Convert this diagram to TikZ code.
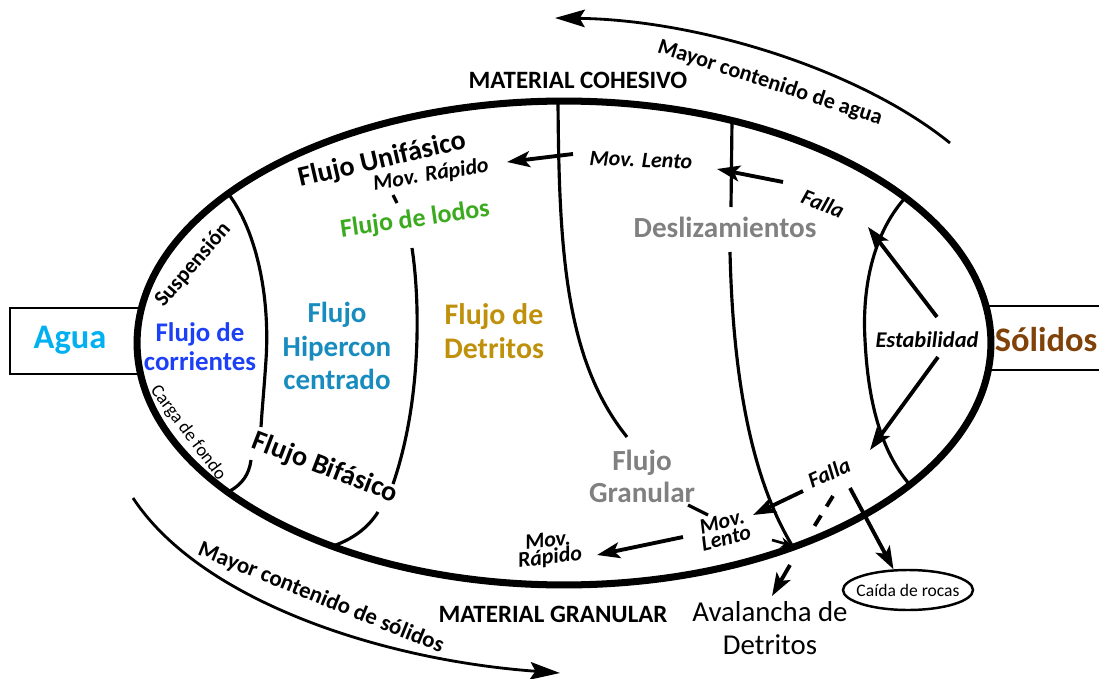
\documentclass[tikz,border=0pt]{standalone}
\usepackage{fontspec}
\setmainfont{Carlito}
\usetikzlibrary{arrows.meta,shapes.geometric}

\definecolor{cagua}{RGB}{0,176,240}
\definecolor{csolido}{RGB}{128,66,8}
\definecolor{ccorriente}{RGB}{28,64,245}
\definecolor{chiper}{RGB}{24,140,190}
\definecolor{cdetrito}{RGB}{191,144,10}
\definecolor{clodo}{RGB}{60,170,30}
\definecolor{cgris}{RGB}{128,128,128}

\newcommand{\tam}[2]{\fontsize{#1}{#2}\selectfont}

\begin{document}
\begin{tikzpicture}[x=0.02cm,y=-0.02cm,
  borde/.style={line width=4pt},
  caja/.style={line width=1.7pt},
  linea/.style={line width=1.8pt},
  flecha/.style={line width=2.2pt,-{Stealth[length=13pt,width=9pt,inset=3pt]}},
  arco/.style={line width=1.6pt,-{Stealth[length=17pt,width=10pt,inset=3pt]}},
  txt/.style={align=center,inner sep=0pt},
  mov/.style={txt,font=\bfseries\itshape\tam{12.5}{9.5}}]

  \useasboundingbox (0,0) rectangle (1099,679);

  % cajas de agua y solidos
  \draw[caja] (142,308) -- (10,308) -- (10,374) -- (142,374);
  \draw[caja] (985,306) -- (1110,306);
  \draw[caja] (985,370) -- (1110,370);

  % elipse principal
  \draw[borde] (564,343) ellipse [x radius=8.54cm,y radius=4.84cm];

  % limites entre zonas
  \draw[linea] (230,196) .. controls (258,235) and (270,300) .. (266,360)
    .. controls (264,390) and (262,410) .. (261,427);
  \draw[linea] (251,460) .. controls (249,475) and (242,484) .. (230,491);
  \draw[linea] (412,248) .. controls (420,300) and (422,400) .. (393,484);
  \draw[linea] (378,512) .. controls (368,528) and (352,540) .. (330,547);
  \draw[linea] (393,195) -- (397,203);
  \draw[linea] (558,101) .. controls (559,250) and (565,360) .. (627,437);
  \draw[linea] (688,505) -- (708,515);
  \draw[linea] (732,121) -- (731,207);
  \draw[linea] (730,252) .. controls (733,380) and (752,480) .. (793,547);
  \draw[linea] (905,198) .. controls (872,235) and (862,290) .. (865,340)
    .. controls (868,400) and (880,450) .. (910,485);

  % textos
  \node[txt,font=\bfseries\tam{19.6}{22},text=cagua] (agua) at (70,340) {Agua};
  \node[txt,font=\bfseries\tam{19.6}{22},text=csolido] (solidos) at (1046,340) {Sólidos};
  \node[txt,font=\bfseries\tam{15.3}{16.4},text=ccorriente] (corrientes) at (200,347) {Flujo de\\corrientes};
  \node[txt,font=\bfseries\tam{16.5}{19},text=chiper] (hiper) at (337,346) {Flujo\\Hipercon\\centrado};
  \node[txt,font=\bfseries\tam{17}{19.3},text=cdetrito] (detritos) at (494,331) {Flujo de\\Detritos};
  \node[txt,font=\bfseries\tam{14.8}{17},text=clodo,rotate=8] (lodos) at (415,220) {Flujo de lodos};
  \node[txt,font=\bfseries\tam{16.6}{19},text=cgris] (desliz) at (725,227) {Deslizamientos};
  \node[txt,font=\bfseries\tam{16.6}{18.2},text=cgris] (granular) at (642,476) {Flujo\\Granular};
  \node[txt,font=\bfseries\tam{16}{18},rotate=13] (unifasico) at (382,160) {Flujo Unifásico};
  \node[txt,font=\bfseries\tam{16}{18},rotate=-21] (bifasico) at (325,468) {Flujo Bifásico};
  \node[txt,font=\bfseries\tam{14.2}{16}] (cohesivo) at (578,80) {MATERIAL COHESIVO};
  \node[txt,font=\bfseries\tam{14.2}{16}] (granulado) at (553,614) {MATERIAL GRANULAR};
  \node[txt,font=\tam{16.4}{18.7}] (avalancha) at (770,628) {Avalancha de\\Detritos};
  \node[draw,ellipse,line width=1.4pt,inner sep=0pt,minimum width=2.6cm,minimum height=0.8cm,
    font=\tam{10}{12}] (rocas) at (908,590) {\makebox[1.4cm]{Caída de rocas}};
  \node[mov,font=\bfseries\itshape\tam{12.8}{15}] (estab) at (927,340) {Estabilidad};
  \node[mov,rotate=9] (rapidoA) at (431,175) {Mov. Rápido};
  \node[mov,rotate=-2] (lentoA) at (641,160) {Mov. Lento};
  \node[mov,rotate=-22] (fallaA) at (823,204) {Falla};
  \node[mov,rotate=24] (fallaB) at (829,473) {Falla};
  \node[mov,rotate=14] (lentoB) at (724,530) {Mov.\\Lento};
  \node[mov,rotate=7] (rapidoB) at (549,550) {Mov.\\Rápido};
  \node[txt,font=\bfseries\tam{12.5}{14},rotate=49] (suspension) at (193,265) {Suspensión};
  \node[txt,font=\tam{10.5}{12},rotate=-53] (carga) at (188,433) {Carga de fondo};
  \node[txt,font=\bfseries\tam{12.6}{14},rotate=-18] (masagua) at (770,83) {Mayor contenido de agua};
  \node[txt,font=\bfseries\tam{13}{15},rotate=-22] (massolidos) at (321,598) {Mayor contenido de sólidos};

  % extremos de las flechas
  \coordinate (aguaIni) at (950,143);
  \coordinate (aguaFin) at (555,18);
  \coordinate (solIni) at (133,498);
  \coordinate (solFin) at (560,673);
  \coordinate (lentoIni) at (573,154);
  \coordinate (lentoFin) at (507,162);
  \coordinate (fallaIni) at (783,182);
  \coordinate (fallaFin) at (717,169);
  \coordinate (estabArr) at (937,317);
  \coordinate (estabSup) at (868,227);
  \coordinate (estabAba) at (938,357);
  \coordinate (estabInf) at (870,450);
  \coordinate (fallaBIni) at (803,491);
  \coordinate (fallaBFin) at (753,515);
  \coordinate (lentoBIni) at (683,537);
  \coordinate (lentoBFin) at (597,555);
  \coordinate (puntaIni) at (772,540);
  \coordinate (puntaFin) at (793,546);
  \coordinate (avalIni) at (790,565);
  \coordinate (avalFin) at (772,596);
  \coordinate (rocasIni) at (850,488);
  \coordinate (rayaIni) at (833,496);
  \coordinate (rayaFin) at (812,530);

  % flechas
  \draw[arco] (aguaIni) .. controls (860,70) and (700,20) .. (aguaFin);
  \draw[arco] (solIni) .. controls (200,600) and (380,660) .. (solFin);
  \draw[flecha] (lentoIni) -- (lentoFin);
  \draw[flecha] (fallaIni) -- (fallaFin);
  \draw[flecha] (estabArr) -- (estabSup);
  \draw[flecha] (estabAba) -- (estabInf);
  \draw[flecha] (fallaBIni) -- (fallaBFin);
  \draw[flecha] (lentoBIni) -- (lentoBFin);
  \draw[line width=1.5pt,-{Stealth[length=7pt,width=6pt]}] (puntaIni) -- (puntaFin);
  \draw[flecha] (avalIni) -- (avalFin);
  \draw[flecha] (rocasIni) -- (rocas.125);
  \draw[line width=2.2pt,dash pattern=on 7pt off 6pt] (rayaIni) -- (rayaFin);
\end{tikzpicture}
\end{document}
